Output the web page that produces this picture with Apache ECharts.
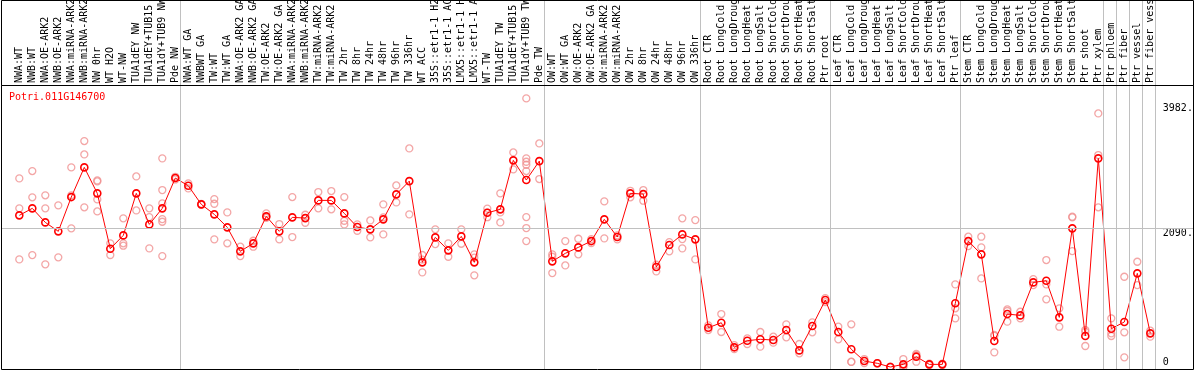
<!DOCTYPE html>
<html><head><meta charset="utf-8">
<script src="https://cdn.jsdelivr.net/npm/echarts@6/dist/echarts.min.js"></script>
<style>html,body{margin:0;padding:0;background:#fff}#c{width:1194px;height:370px}</style>
</head><body><div id="c"></div>
<script>
const geneId = 'Potri.011G146700';
const categories = [
 'NWA:WT','NWB:WT','NWA:OE-ARK2','NWB:OE-ARK2','NWA:miRNA-ARK2','NWB:miRNA-ARK2','NW 0hr','WT H2O','WT-NW','TUA1dEY NW','TUA1dEY+TUB15','TUA1dY+TUB9 NW','Pde NW',
 'NWA:WT GA','NWBWT GA','TW:WT','TW:WT GA','NWA:OE-ARK2 GA','NWB:OE-ARK2 GA','TW:OE-ARK2','TW:OE-ARK2 GA','NWA:miRNA-ARK2 GA','NWB:miRNA-ARK2 GA','TW:miRNA-ARK2','TW:miRNA-ARK2 GA','TW 2hr','TW 8hr','TW 24hr','TW 48hr','TW 96hr','TW 336hr','WT ACC','35S::etr1-1 H2O','35S::etr1-1 ACC','LMX5::etr1-1 H2O','LMX5::etr1-1 ACC','WT-TW','TUA1dEY TW','TUA1dEY+TUB15','TUA1dY+TUB9 TW','Pde TW',
 'OW:WT','OW:WT GA','OW:OE-ARK2','OW:OE-ARK2 GA','OW:miRNA-ARK2','OW:miRNA-ARK2 GA','OW 2hr','OW 8hr','OW 24hr','OW 48hr','OW 96hr','OW 336hr',
 'Root CTR','Root LongCold','Root LongDrought','Root LongHeat','Root LongSalt','Root ShortCold','Root ShortDrought','Root ShortHeat','Root ShortSalt','Ptr root',
 'Leaf CTR','Leaf LongCold','Leaf LongDrought','Leaf LongHeat','Leaf LongSalt','Leaf ShortCold','Leaf ShortDrought','Leaf ShortHeat','Leaf ShortSalt','Ptr leaf',
 'Stem CTR','Stem LongCold','Stem LongDrought','Stem LongHeat','Stem LongSalt','Stem ShortCold','Stem ShortDrought','Stem ShortHeat','Stem ShortSalt','Ptr shoot','Ptr xylem',
 'Ptr phloem','Ptr fiber','Ptr vessel','Ptr fiber vessel'
];
const means = [
 2288,2394,2182,2047,2564,3012,2620,1785,1986,2620,2152,2394,2851,
 2735,2454,2303,2107,1745,1866,2273,2047,2258,2247,2514,2514,2318,2112,2077,2228,2605,2805,1579,1956,1760,1971,1579,2327,2379,3118,2821,3107,
 1594,1715,1805,1900,2228,1961,2620,2609,1508,1840,2001,1926,
 593,668,297,397,418,407,558,251,618,1010,
 528,267,90,56,0,40,156,40,40,961,
 1900,1700,392,799,779,1277,1302,749,2092,468,3148,
 578,679,1413,508
];
const replicates = [
 [2846,2394,1624],[2956,2560,1689],[2590,2394,1549],[2439,1655],[3012,2590,2092],[3409,3208,2409],[2815,2800,2529,2348],[1866,1690],[2243,1866,1830],[2876,2363],[2394,2262,1790],[3148,2670,2469,2232,2192,1674],[2870,2830],
 [2771,2695],[2460,2448],[2534,2463,1926],[2333,1866],[1815,1674],[1905,1815],[2318,2252],[2157,1926],[2564,1961],[2297,2177],[2640,2394],[2655,2379],[2564,2207,2152],[2152,2056],[2212,1956],[2454,2258,2001],[2740,2484],[3298,2303],[1690,1620,1428],[2077,1855],[1866,1664],[2077,1860],[1700,1650,1383],[2390,2330,2260],[2620,2333,2182],[3238,2982],[4053,3148,3097,3052,2956,2262,2097,1900],[3374,2836],
 [1700,1664,1418],[1900,1533],[1935,1700],[1930,1870],[2499,1941],[1986,1926],[2659,2560],[2670,2509],[1543,1443],[1885,1745],[2243,1931,1790],[2217,1624],
 [629,558],[799,528],[330,270],[433,347],[528,307],[458,367],[644,448],[347,206],[674,523],[1040,980],
 [608,418],[644,80,77],[120,60],[60,52],[5,0],[120,0,0],[196,180,80],[50,30],[50,30],[1247,885,734],
 [1966,1825],[1966,1805,1337],[483,470,221],[870,845,684],[834,734],[1327,1237],[1614,1247,1021],[885,608],[2258,2268,1750],[558,530,317],[3826,3198,2409],
 [734,508,468],[1362,523,146],[1588,1237],[548,458]
];
const yLabelValues = [2090, 3982];
const yZeroLabel = [0];
const refLineValue = 2090;
const groupEnds = [12, 40, 52, 62, 72, 83, 84, 85, 86, 87];

const FONT = 'DejaVu Sans Mono';
const Y_MIN = -30, Y_MAX = 4255;
const GRAY = '#c0c0c0';
const repData = [];
replicates.forEach((arr, i) => arr.forEach(v => repData.push([i, v])));
const sepLines = [{xAxis: -0.677}].concat(groupEnds.map(i => ({xAxis: i + 0.4})));
const fmtY = v => (v === 0 ? '0' : v + '.');

const chart = echarts.init(document.getElementById('c'), null, {renderer: 'canvas'});
chart.setOption({
  animation: false,
  title: {text: geneId, left: 9, top: 92, padding: 0, textStyle: {color: '#ff0000', fontSize: 10, fontFamily: FONT, fontWeight: 'normal'}},
  grid: [
    {left: 12.8, right: 37.2, top: 85, bottom: 1, outerBoundsMode: 'none', containLabel: false},
    {left: 1, right: 1, top: 85, bottom: 1, outerBoundsMode: 'none', containLabel: false},
    {left: 12.8, right: 37.2, top: 0, bottom: 1, outerBoundsMode: 'none', containLabel: false},
    {left: 1.5, right: 0.5, top: 85.5, bottom: 0.5, outerBoundsMode: 'none', containLabel: false, show: true, borderColor: '#000', borderWidth: 1, z: 10},
    {left: 1.5, right: 0.5, top: 0.5, bottom: 284.5, outerBoundsMode: 'none', containLabel: false, show: true, borderColor: '#000', borderWidth: 1, z: 10}
  ],
  xAxis: [
    {gridIndex: 0, type: 'category', data: categories, position: 'top', boundaryGap: true,
     axisLine: {show: false}, axisTick: {show: false}, splitLine: {show: false},
     axisLabel: {interval: 0, rotate: 90, margin: 2, fontSize: 10, fontFamily: FONT, color: '#000', hideOverlap: false}},
    {gridIndex: 1, type: 'value', min: 0, max: 1, show: false},
    {gridIndex: 2, type: 'value', min: -0.5, max: categories.length - 0.5, show: false},
    {gridIndex: 3, type: 'value', min: 0, max: 1, show: false},
    {gridIndex: 4, type: 'value', min: 0, max: 1, show: false}
  ],
  yAxis: [
    {gridIndex: 0, type: 'value', min: Y_MIN, max: Y_MAX, position: 'right', offset: 0,
     axisLine: {show: false}, axisTick: {show: false}, splitLine: {show: false},
     axisLabel: {customValues: yLabelValues, formatter: fmtY, margin: 6, verticalAlign: 'top', fontSize: 10, fontFamily: FONT, color: '#000'}},
    {gridIndex: 0, type: 'value', min: Y_MIN, max: Y_MAX, position: 'right', offset: 0,
     axisLine: {show: false}, axisTick: {show: false}, splitLine: {show: false},
     axisLabel: {customValues: yZeroLabel, formatter: fmtY, margin: 6, verticalAlign: 'bottom', fontSize: 10, fontFamily: FONT, color: '#000'}},
    {gridIndex: 1, type: 'value', min: Y_MIN, max: Y_MAX, show: false},
    {gridIndex: 2, type: 'value', min: 0, max: 1, show: false},
    {gridIndex: 3, type: 'value', min: 0, max: 1, show: false},
    {gridIndex: 4, type: 'value', min: 0, max: 1, show: false}
  ],
  series: [
    {type: 'line', xAxisIndex: 2, yAxisIndex: 3, data: [], silent: true, z: 1,
     markLine: {silent: true, symbol: ['none', 'none'], label: {show: false}, emphasis: {disabled: true},
       lineStyle: {color: GRAY, width: 1, type: 'solid'}, data: sepLines}},
    {type: 'line', xAxisIndex: 1, yAxisIndex: 2, data: [], silent: true, z: 1,
     markLine: {silent: true, symbol: ['none', 'none'], label: {show: false}, emphasis: {disabled: true},
       lineStyle: {color: GRAY, width: 1, type: 'solid'}, data: [{yAxis: refLineValue}]}},
    {type: 'scatter', xAxisIndex: 0, yAxisIndex: 0, data: repData, symbol: 'circle', symbolSize: 7, z: 2, silent: true,
     itemStyle: {color: 'rgba(0,0,0,0)', borderColor: '#f09090', borderWidth: 1.3}},
    {type: 'line', xAxisIndex: 0, yAxisIndex: 0, data: means, symbol: 'circle', symbolSize: 7, showAllSymbol: true, z: 3, silent: true,
     itemStyle: {color: 'rgba(0,0,0,0)', borderColor: '#ff0000', borderWidth: 1.6},
     lineStyle: {color: '#ff0000', width: 1}}
  ]
});
</script></body></html>
